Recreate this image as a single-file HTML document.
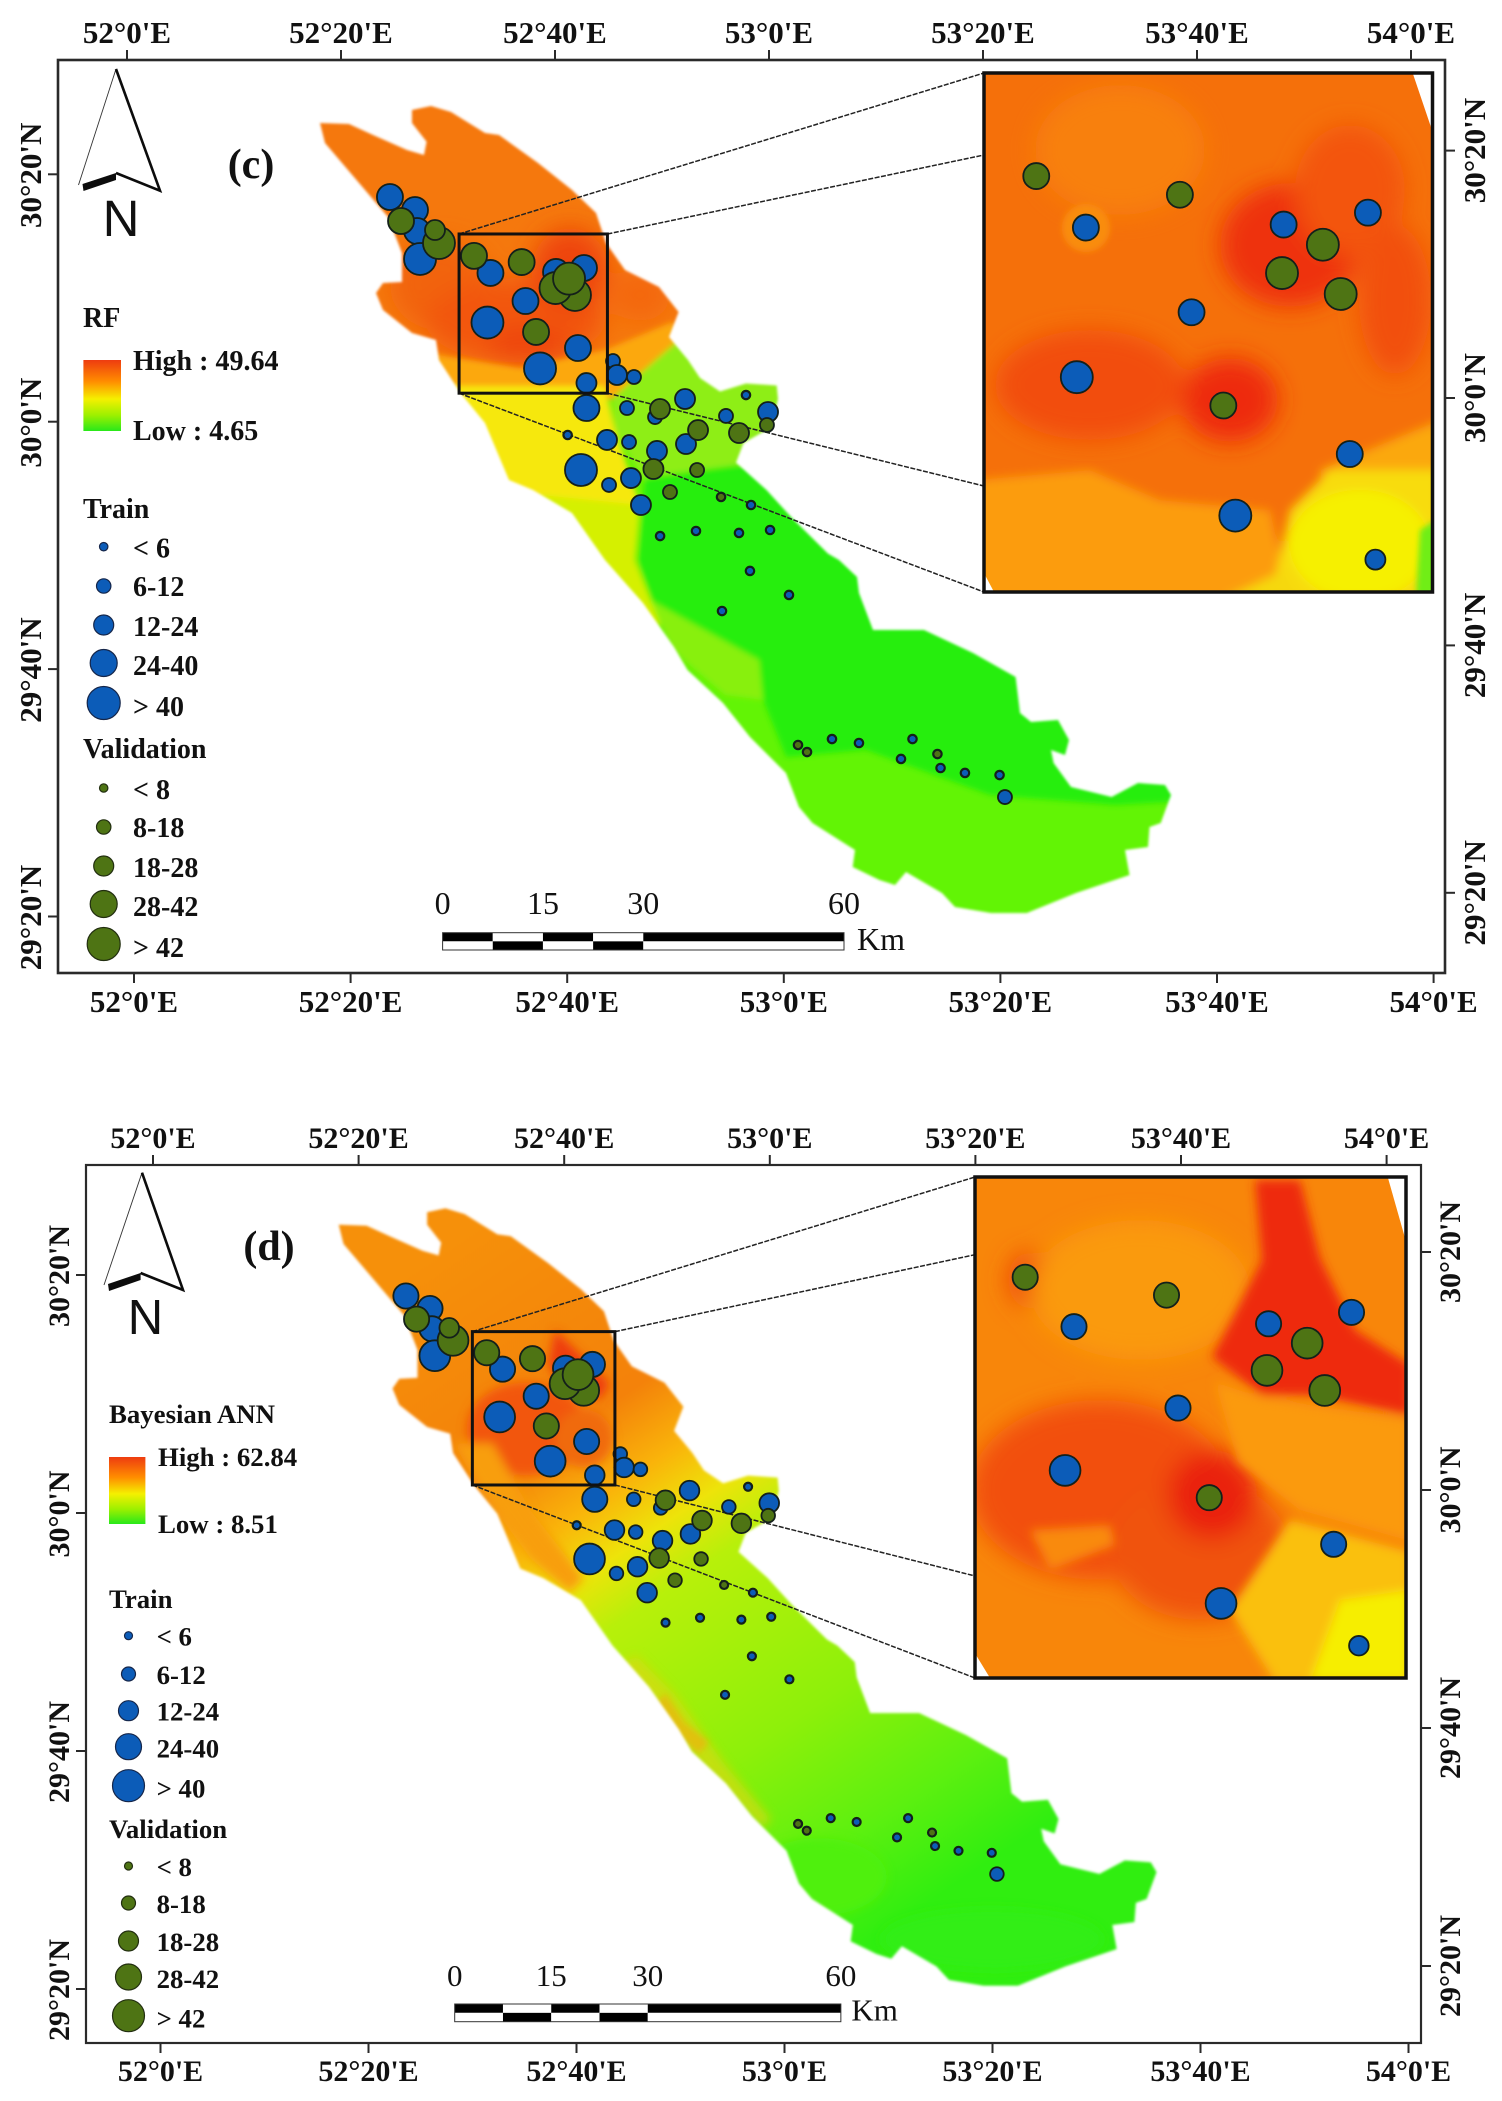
<!DOCTYPE html>
<html lang="en">
<head>
<meta charset="utf-8">
<title>RF and Bayesian ANN prediction maps</title>
<style>
html,body{margin:0;padding:0;background:#fff;}
svg{display:block;}
text{font-family:"Liberation Serif",serif;fill:#111;}
</style>
</head>
<body>
<svg id="figure" xmlns="http://www.w3.org/2000/svg" width="1502" height="2101" viewBox="0 0 1502 2101">
<defs>
  <filter id="blur1" x="-5%" y="-5%" width="110%" height="110%"><feGaussianBlur stdDeviation="1.3"/></filter>
  <filter id="blur3" x="-40%" y="-40%" width="180%" height="180%"><feGaussianBlur stdDeviation="3"/></filter>
  <filter id="blur5" x="-30%" y="-30%" width="160%" height="160%"><feGaussianBlur stdDeviation="5"/></filter>
  <filter id="blur12" x="-40%" y="-40%" width="180%" height="180%"><feGaussianBlur stdDeviation="12"/></filter>
  <polygon id="basinShape" points="320,123 349,124 373,135 407,150 424,155 426.6,141.7 412,123 412,110 431,106 451,112 485,133 499,135 538,163 572,190 596,213 606,243 625,270 659,287 678.6,312 669,337 688,360 700,378 720,391.5 746,383.5 776.7,385.5 778,399 771.6,427 743.5,443 736,462.6 766.5,490 792,518 828,553.6 839,560 857,577 859,593 873,630 924,630 973,653 1015.6,677 1020,713 1031,722 1058,720 1069,740 1065,755 1051,750 1053.6,763 1071,787 1111.6,797 1138,783 1165,785 1171,795 1160.7,823 1149.5,827 1148,847 1125,850 1129.5,875 1076,893 1026.8,913 991,913 955,907 942,893 906,872 895,885 879.5,880 852.7,867 855,850 812.5,823 799,807 786,773 750,737 723,703 687.5,670 674,647 643,603 605,560 572,513 533,490 509,480 485,423 460.5,393 439,360 436,340 412,333 383,310 376,293 383,283 402,282 402,253 388,217 325,143"/>
  <mask id="basin" maskUnits="userSpaceOnUse" x="280" y="70" width="930" height="880">
    <use href="#basinShape" fill="#fff" filter="url(#blur1)"/>
  </mask>
  <clipPath id="insetClipC"><rect x="984" y="73" width="449" height="519"/></clipPath>
  <clipPath id="insetClipD"><rect x="975" y="1177" width="431" height="501"/></clipPath>
  <linearGradient id="rampBar" x1="0" y1="0" x2="0" y2="1">
    <stop offset="0" stop-color="#ee3c10"/><stop offset=".3" stop-color="#ff8c00"/>
    <stop offset=".55" stop-color="#f5f000"/><stop offset=".78" stop-color="#9cf000"/>
    <stop offset="1" stop-color="#28e81a"/>
  </linearGradient>
  <linearGradient id="annBase" gradientUnits="userSpaceOnUse" x1="430" y1="150" x2="900" y2="850">
    <stop offset="0" stop-color="#f6900a"/><stop offset=".27" stop-color="#f4820a"/>
    <stop offset=".36" stop-color="#fab40a"/><stop offset=".43" stop-color="#eee40a"/>
    <stop offset=".5" stop-color="#b8f00a"/><stop offset=".72" stop-color="#8ef00a"/>
    <stop offset=".88" stop-color="#5cf010"/><stop offset="1" stop-color="#30ee10"/>
  </linearGradient>
</defs>

<!-- Panel (c) RF raster -->
<g mask="url(#basin)">
  <rect x="280" y="70" width="930" height="880" fill="#62f405"/>
  <g filter="url(#blur3)">
    <polygon points="280,70 740,70 740,300 695,340 625,398 445,398 280,398" fill="#f5780a"/>
  </g>
  <g filter="url(#blur12)">
    <ellipse cx="440" cy="285" rx="50" ry="45" fill="#f2640e"/>
    <ellipse cx="515" cy="320" rx="90" ry="42" fill="#f2560c"/>
    <ellipse cx="570" cy="270" rx="38" ry="42" fill="#ee440a"/>
    <ellipse cx="530" cy="345" rx="42" ry="18" fill="#ee440a"/>
    <ellipse cx="640" cy="295" rx="30" ry="26" fill="#f4680a"/>
  </g>
  <g filter="url(#blur3)">
    <polygon points="420,352 520,368 605,350 672,322 700,345 625,398 445,398" fill="#fca808"/>
    <polygon points="420,386 605,386 615,430 640,505 635,560 660,625 580,640 500,540 440,450" fill="#f6e80a"/>
    <polygon points="540,495 640,505 635,560 660,625 600,640" fill="#d5f000"/>
    <polygon points="690,330 735,372 810,365 810,440 745,450 745,480 700,472 645,482 615,430 612,398" fill="#8eee16"/>
    <polygon points="645,478 700,470 760,462 810,470 910,600 1040,640 1210,770 1210,800 1115,805 990,795 866,750 786,757 763,700 759,660 652,603 638,563" fill="#28ee08"/>
    <polygon points="650,600 759,660 763,700 725,695 672,650" fill="#88f00c"/>
  </g>
</g>

<!-- Panel (c) inset raster -->
<g clip-path="url(#insetClipC)">
  <rect x="984" y="73" width="449" height="519" fill="#f5700a"/>
  <g filter="url(#blur12)">
    <ellipse cx="1290" cy="245" rx="70" ry="62" fill="#ee3208"/>
    <ellipse cx="1350" cy="190" rx="55" ry="65" fill="#f3540a"/>
    <ellipse cx="1230" cy="400" rx="48" ry="42" fill="#ee2a08"/>
    <ellipse cx="1090" cy="385" rx="95" ry="55" fill="#f24e0c"/>
    <ellipse cx="1120" cy="150" rx="85" ry="65" fill="#f8800a"/>
    <ellipse cx="1395" cy="300" rx="36" ry="75" fill="#f2500c"/>
  </g>
  <circle cx="1086" cy="228" r="24" fill="#f98c10" filter="url(#blur3)"/>
  <g filter="url(#blur5)">
    <polygon points="975,480 1090,470 1160,500 1270,510 1290,600 975,600" fill="#fc9c08"/>
    <polygon points="1320,470 1440,420 1440,490 1330,540" fill="#fba808"/>
    <polygon points="1290,510 1330,470 1440,470 1440,600 1270,600" fill="#f8dc08"/>
    <ellipse cx="1360" cy="545" rx="70" ry="55" fill="#f6f004"/>
    <polygon points="1222,600 1285,570 1300,600" fill="#f6d808"/>
  </g>
  <polygon points="1420,530 1436,520 1436,596 1416,596" fill="#70ee14" filter="url(#blur3)"/>
  <polygon points="1413,74 1434,74 1434,136" fill="#fff"/>
  <polygon points="985,575 985,592 994,592" fill="#fff"/>
</g>

<!-- Panel (d) Bayesian ANN raster, reusing the same basin outline -->
<g transform="translate(31.2 1106.2) scale(.961 .9633)">
  <g mask="url(#basin)">
    <rect x="280" y="70" width="930" height="880" fill="url(#annBase)"/>
    <g filter="url(#blur5)">
      <polygon points="545,232 602,288 592,304 552,292 538,268" fill="#ee3c0a"/>
      <ellipse cx="515" cy="335" rx="62" ry="48" fill="#f2560c"/>
      <ellipse cx="575" cy="345" rx="30" ry="30" fill="#f06a0c"/>
      <polygon points="440,350 465,395 520,470 560,505 575,490 520,420 480,350" fill="#f89e0a"/>
      <polygon points="610,580 655,640 700,690 760,750 770,740 720,680 670,610 630,570" fill="#d8d80a" opacity=".7"/>
      <ellipse cx="1000" cy="865" rx="115" ry="32" fill="#30ee12"/>
      <ellipse cx="820" cy="800" rx="70" ry="40" fill="#50f010"/>
    </g>
    <polygon points="660,610 680,640 705,660 695,672 668,650 650,620" fill="#ecb40a" opacity=".7" filter="url(#blur3)"/>
  </g>
</g>

<!-- Panel (d) inset raster -->
<g clip-path="url(#insetClipD)">
  <rect x="975" y="1177" width="431" height="501" fill="#f8860a"/>
  <g filter="url(#blur12)">
    <ellipse cx="1100" cy="1490" rx="130" ry="90" fill="#f2500c"/>
    <ellipse cx="1200" cy="1550" rx="90" ry="70" fill="#f0520c"/>
    <ellipse cx="1030" cy="1280" rx="22" ry="28" fill="#ee440a"/>
    <ellipse cx="1212" cy="1495" rx="45" ry="45" fill="#ea2208"/>
    <ellipse cx="1140" cy="1290" rx="110" ry="70" fill="#fa9a0a"/>
  </g>
  <g filter="url(#blur5)">
    <polygon points="1255,1180 1300,1180 1320,1258 1355,1330 1410,1365 1410,1415 1314,1395 1262,1395 1212,1357 1232,1319 1262,1260" fill="#ee2c08"/>
    <polygon points="1215,1382 1262,1398 1410,1420 1410,1541 1300,1510 1238,1462" fill="#fb9a0a"/>
    <polygon points="1030,1530 1110,1525 1115,1545 1050,1570" fill="#f98a0a"/>
    <polygon points="1290,1520 1410,1552 1410,1682 1275,1682 1230,1610" fill="#fac00a"/>
    <polygon points="1340,1600 1410,1590 1410,1682 1310,1682" fill="#f6ee06"/>
  </g>
  <polygon points="1388,1178 1407,1178 1407,1245" fill="#fff"/>
  <polygon points="976,1655 976,1678 990,1678" fill="#fff"/>
</g>
<g id="overlay"></g>
</svg>

<script>
// Station values and positions (minutes east of 52°0'E, minutes north of 30°0'N).
const trainLon = [24.07,26.4,26.59,26.87,33.42,39.52,42.12,36.68,33.14,41.56,38.03,44.82,45.19,46.77,42.35,42.35,46.12,51.52,48.73,44.26,46.31,48.91,51.61,41.84,44.45,46.49,47.42,55.33,57.19,57.66,40.6,59.24,56.54,59.43,49.2,52.54,57.56,61.19,54.96,65.19,67.7,71.61,72.68,75.29,77.56,80.78,81.28];
const trainLat = [18.06,17.01,15.31,13.05,11.92,12.0,12.32,9.65,7.91,5.85,4.2,4.8,3.67,3.51,3.02,1.0,1.0,1.73,0.27,-1.58,-1.75,-2.47,-1.91,-4.01,-5.22,-4.66,-6.84,0.36,2.05,-6.84,-1.18,0.68,-9.1,-8.86,-9.35,-8.94,-12.17,-14.11,-15.41,-25.76,-26.08,-27.37,-25.76,-28.1,-28.5,-28.67,-30.45];
const trainValue = [32,32,30,45,32,35,32,30,45,30,45,9,14,9,18,32,9,18,9,18,9,18,18,45,9,18,18,9,4,4,4,18,4,4,4,4,4,4,4,4,4,4,4,4,4,4,9];
const validLon = [25.1,28.63,28.26,31.89,36.32,41.28,39.47,40.73,37.66,49.19,52.73,56.54,48.58,52.64,50.12,54.87,59.14,62.03,62.87,75.0];
const validLat = [16.12,14.34,15.39,13.3,12.8,10.14,10.7,11.46,7.15,0.92,-0.78,-1.02,-3.93,-4.01,-5.79,-6.19,-0.37,-26.24,-26.81,-26.97];
const validValue = [35,45,20,35,35,45,45,45,35,20,20,20,20,12,12,5,12,5,5,5];

// Legend classes and axis ticks.
const trainClasses = ["< 6","6-12","12-24","24-40","> 40"];
const trainBreaks = [6,12,24,40];
const validClasses = ["< 8","8-18","18-28","28-42","> 42"];
const validBreaks = [8,18,28,42];
const lonTickValues = [0,20,40,60,80,100,120];
const lonTickLabels = ["52°0'E","52°20'E","52°40'E","53°0'E","53°20'E","53°40'E","54°0'E"];
const latTickValues = [20,0,-20,-40];
const latTickLabels = ["30°20'N","30°0'N","29°40'N","29°20'N"];
const scaleValues = [0,15,30,60];
const insetLonRange = [30.5,44.3];
const insetLatRange = [2.2,15.07];

const NS = "http://www.w3.org/2000/svg";
const BLUE = "#0c5cb8", OLIVE = "#4e7414";
const root = document.getElementById("overlay");

function mk(parent, tag, attrs){
  const el = document.createElementNS(NS, tag);
  for (const k in attrs) el.setAttribute(k, attrs[k]);
  parent.appendChild(el);
  return el;
}
function txt(parent, str, x, y, size, bold, anchor, rotate){
  const el = mk(parent, "text", {x:x, y:y, "font-size":size, "font-weight":bold?"bold":"normal", "text-anchor":anchor||"start"});
  if (rotate) el.setAttribute("transform", "rotate(" + rotate + " " + x + " " + y + ")");
  el.textContent = str;
  return el;
}
function classOf(value, breaks){
  let i = 0;
  while (i < breaks.length && value >= breaks[i]) i++;
  return i;
}

function drawStations(parent, lon, lat, value, breaks, fill, radii, sx, sy, filterBox, nameText){
  for (let i = 0; i < lon.length; i++){
    if (filterBox && (lon[i] < insetLonRange[0] || lon[i] > insetLonRange[1] || lat[i] < insetLatRange[0] || lat[i] > insetLatRange[1])) continue;
    const cls = classOf(value[i], breaks);
    const c = mk(parent, "circle", {cx:sx(lon[i]), cy:sy(lat[i]), r:radii[cls], fill:fill, stroke:"#14201a", "stroke-width":cls === 0 ? 2.2 : 1.8});
    
    
  }
}

function drawPanel(p){
  const g = mk(root, "g", {});
  
  

  const frame = mk(g, "rect", {x:p.left, y:p.top, width:p.right-p.left, height:p.bottom-p.top, fill:"none", stroke:"#2a2a2a", "stroke-width":p.lw});
  
  

  // Longitude ticks
  const topX = m => p.topX0 + p.topK * m;
  const botX = m => p.botX0 + p.botK * m;
  const leftY = n => p.leftY0 - p.latK * n;
  const rightY = n => p.rightY0 - p.latK * n;
  lonTickValues.forEach((m, i) => {
    const t1 = mk(g, "line", {x1:topX(m), x2:topX(m), y1:p.top, y2:p.top-10, stroke:"#2a2a2a", "stroke-width":2});
    
    
    const l1 = txt(g, lonTickLabels[i], topX(m), p.topBase, p.tickSize, true, "middle");
    
    
    const t2 = mk(g, "line", {x1:botX(m), x2:botX(m), y1:p.bottom, y2:p.bottom+10, stroke:"#2a2a2a", "stroke-width":2});
    
    
    const l2 = txt(g, lonTickLabels[i], botX(m), p.botBase, p.tickSize, true, "middle");
    
    
  });
  // Latitude ticks
  latTickValues.forEach((n, i) => {
    const t1 = mk(g, "line", {x1:p.left, x2:p.left-10, y1:leftY(n), y2:leftY(n), stroke:"#2a2a2a", "stroke-width":2});
    
    
    const l1 = txt(g, latTickLabels[i], p.leftBase, leftY(n)+1, p.tickSize, true, "middle", -90);
    
    
    const t2 = mk(g, "line", {x1:p.right, x2:p.right+10, y1:rightY(n), y2:rightY(n), stroke:"#2a2a2a", "stroke-width":2});
    
    
    const l2 = txt(g, latTickLabels[i], p.rightBase, rightY(n), p.tickSize, true, "middle", -90);
    
    
  });

  // Map scales
  const sx = m => p.ox + p.kx * m;
  const sy = n => p.oy - p.ky * n;
  const ix = m => p.iox + p.ikx * m;
  const iy = n => p.ioy - p.iky * n;

  // Connector lines
  const bx0 = sx(insetLonRange[0]), bx1 = sx(insetLonRange[1]);
  const by0 = sy(insetLatRange[1]), by1 = sy(insetLatRange[0]);
  [[bx0,by0,p.iLeft,p.iTop],[bx1,by0,p.iLeft,p.connTop],[bx1,by1,p.iLeft,p.connBot],[bx0,by1,p.iLeft,p.iBottom]].forEach(s => {
    const l = mk(g, "line", {x1:s[0], y1:s[1], x2:s[2], y2:s[3], stroke:"#222", "stroke-width":1.5, "stroke-dasharray":"5 1.5"});
    
    
  });

  // Stations on the main map
  drawStations(g, trainLon, trainLat, trainValue, trainBreaks, BLUE, p.radii, sx, sy, false, 'train-station');
  drawStations(g, validLon, validLat, validValue, validBreaks, OLIVE, p.radii, sx, sy, false, 'validation-station');

  // Extent box
  const box = mk(g, "rect", {x:bx0, y:by0, width:bx1-bx0, height:by1-by0, fill:"none", stroke:"#111", "stroke-width":3});
  
  

  // Inset stations and frame
  drawStations(g, trainLon, trainLat, trainValue, trainBreaks, BLUE, p.radii, ix, iy, true, 'inset-train-station');
  drawStations(g, validLon, validLat, validValue, validBreaks, OLIVE, p.radii, ix, iy, true, 'inset-validation-station');
  const insetFrame = mk(g, "rect", {x:p.iLeft, y:p.iTop, width:p.iRight-p.iLeft, height:p.iBottom-p.iTop, fill:"none", stroke:"#111", "stroke-width":3.5});
  
  

  // North arrow
  const na = p.north;
  const arrow = mk(g, "polygon", {points:[na.tip,na.lb,na.notch,na.rb].map(q => q.join(",")).join(" "), fill:"#fff", stroke:"none"});
  
  
  const thin = mk(g, "line", {x1:na.tip[0], y1:na.tip[1], x2:na.lb[0], y2:na.lb[1], stroke:"#333", "stroke-width":0.9});
  
  
  const thick = mk(g, "polyline", {points:[na.tip,na.rb,na.notch].map(q => q.join(",")).join(" "), fill:"none", stroke:"#0c0c0c", "stroke-width":2.6});
  
  
  const barb = mk(g, "polygon", {points:[na.notch, [na.lb[0]+4,na.lb[1]-1], [na.lb[0]+5,na.lb[1]+6], [na.notch[0],na.notch[1]+7]].map(q => q.join(",")).join(" "), fill:"#0c0c0c"});
  
  
  const nLetter = mk(g, "text", {x:na.nx, y:na.ny, "font-size":na.ns, "text-anchor":"middle", style:"font-family:'Liberation Sans',sans-serif"});
  nLetter.textContent = "N";
  
  

  // Panel letter and model legend
  const letter = txt(g, p.letter, p.letterX, p.letterY, p.letterSize, true, "middle");
  
  
  const title = txt(g, p.title, p.legX, p.titleY, p.legSize, true);
  
  
  const bar = mk(g, "rect", {x:p.barX, y:p.barY, width:p.barW, height:p.barH, fill:"url(#rampBar)"});
  
  
  const hi = txt(g, p.high, p.rampLabelX, p.highY, p.legSize, true);
  
  
  const lo = txt(g, p.low, p.rampLabelX, p.lowY, p.legSize, true);
  
  

  // Size legends
  const th = txt(g, "Train", p.legX, p.trainHeadY, p.legSize, true);
  
  
  trainClasses.forEach((lab, i) => {
    const c = mk(g, "circle", {cx:p.legCx, cy:p.trainY[i], r:p.legR[i], fill:BLUE, stroke:"#15264a", "stroke-width":1.2});
    
    
    const t = txt(g, lab, p.legLabelX, p.trainY[i]+p.legDy[i], p.legSize, true);
    
    
  });
  const vh = txt(g, "Validation", p.legX, p.validHeadY, p.legSize, true);
  
  
  validClasses.forEach((lab, i) => {
    const c = mk(g, "circle", {cx:p.legCx, cy:p.validY[i], r:p.legR[i], fill:OLIVE, stroke:"#222e10", "stroke-width":1.2});
    
    
    const t = txt(g, lab, p.legLabelX, p.validY[i]+p.legDy[i], p.legSize, true);
    
    
  });

  // Scale bar
  const km = d => p.sbX0 + p.sbK * d;
  const sbMid = (p.sbTop + p.sbBot) / 2;
  const cuts = [0,7.5,15,22.5,30,60];
  for (let i = 0; i < cuts.length-1; i++){
    const up = mk(g, "rect", {x:km(cuts[i]), y:p.sbTop, width:km(cuts[i+1])-km(cuts[i]), height:sbMid-p.sbTop, fill:i%2===0?"#000":"#fff"});
    
    
    const dn = mk(g, "rect", {x:km(cuts[i]), y:sbMid, width:km(cuts[i+1])-km(cuts[i]), height:p.sbBot-sbMid, fill:i%2===0?"#fff":"#000"});
    
    
  }
  const sbOutline = mk(g, "rect", {x:km(0), y:p.sbTop, width:km(60)-km(0), height:p.sbBot-p.sbTop, fill:"none", stroke:"#333", "stroke-width":1});
  
  
  scaleValues.forEach(v => {
    const t = txt(g, String(v), km(v), p.sbLabelY, p.sbSize, false, "middle");
    
    
  });
  const kmLab = txt(g, "Km", p.kmX, p.kmY, p.sbSize, false);
  
  
}

drawPanel({
  id:"rf", left:58, right:1445, top:60, bottom:973, lw:2.6,
  topX0:127, topK:10.7, botX0:134, botK:10.83, leftY0:421.7, rightY0:398, latK:12.37,
  topBase:43, botBase:1012, leftBase:41, rightBase:1485, tickSize:31,
  ox:131.2, oy:420.4, kx:10.75, ky:12.37,
  iox:2.4, ioy:672.3, ikx:32.42, iky:37.31,
  iLeft:984, iRight:1432.5, iTop:73, iBottom:592, connTop:155, connBot:486,
  radii:[4.2,7,10,13,16],
  north:{tip:[116,69], lb:[78.5,185], notch:[116,173], rb:[160,190.7], nx:121, ny:236, ns:51},
  letter:"(c)", letterX:251, letterY:178, letterSize:42,
  title:"RF", legX:83, titleY:327, legSize:28,
  barX:83.4, barY:360, barW:37.6, barH:71, rampLabelX:133, high:"High : 49.64", highY:370, low:"Low : 4.65", lowY:440,
  trainHeadY:518, validHeadY:758, legCx:103.7, legLabelX:133,
  trainY:[546.7,586,625,663,703], validY:[788,827,866,904,944],
  legR:[4.2,7.2,10,13.5,16.5], legDy:[11,10,11,12,13],
  sbX0:442.6, sbK:6.69, sbTop:932.7, sbBot:950, sbLabelY:914, sbSize:32, kmX:857, kmY:950
});

drawPanel({
  id:"bayesian-ann", left:86, right:1421, top:1165, bottom:2043, lw:2.2,
  topX0:153, topK:10.28, botX0:160.5, botK:10.4, leftY0:1513, rightY0:1490, latK:11.9,
  topBase:1148, botBase:2081, leftBase:69, rightBase:1460, tickSize:30,
  ox:157.3, oy:1511.2, kx:10.33, ky:11.916,
  iox:7.9, ioy:1754, ikx:31.9, iky:35.85,
  iLeft:975, iRight:1406, iTop:1177, iBottom:1678, connTop:1254.7, connBot:1576,
  radii:[4,6.8,9.8,12.6,15.4],
  north:{tip:[142,1172.7], lb:[104,1285], notch:[140.6,1273], rb:[183,1290], nx:145.4, ny:1334, ns:49},
  letter:"(d)", letterX:269, letterY:1260, letterSize:42,
  title:"Bayesian ANN", legX:109, titleY:1423, legSize:26.8,
  barX:109, barY:1457, barW:36.4, barH:67, rampLabelX:158, high:"High : 62.84", highY:1466, low:"Low : 8.51", lowY:1533,
  trainHeadY:1608, validHeadY:1838, legCx:128.5, legLabelX:156.6,
  trainY:[1635.7,1674,1710.7,1746.7,1785.7], validY:[1866,1903,1941,1977,2015.7],
  legR:[4,7,10,13,16], legDy:[10,10,10,11,12],
  sbX0:454.7, sbK:6.436, sbTop:2004, sbBot:2021.7, sbLabelY:1986, sbSize:31, kmX:851.4, kmY:2020.7
});
</script>
</body>
</html>
